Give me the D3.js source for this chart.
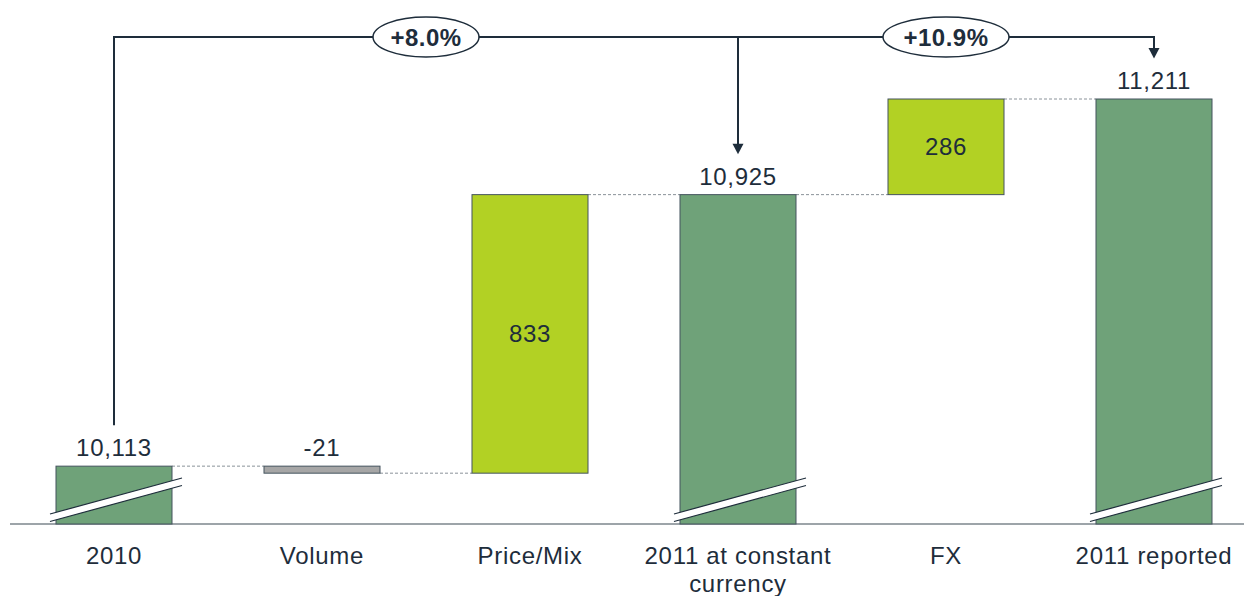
<!DOCTYPE html>
<html>
<head>
<meta charset="utf-8">
<script src="https://cdn.jsdelivr.net/npm/d3@7"></script>
<style>
  html, body { margin: 0; padding: 0; background: #fff; }
  svg { display: block; font-family: "Liberation Sans", Arial, sans-serif; }
</style>
</head>
<body>
<svg id="chart" width="1244" height="596"></svg>
<script>
// Bridge from 2010 sales to 2011 reported sales
const categories = ["2010", "Volume", "Price/Mix", "2011 at constant\ncurrency", "FX", "2011 reported"];
const kinds      = ["total", "delta", "delta", "total", "delta", "total"];
const values     = [10113, -21, 833, 10925, 286, 11211];
const valueLabels = ["10,113", "-21", "833", "10,925", "286", "11,211"];
const growthLabels = ["+8.0%", "+10.9%"];
const growthSpans = [[0, 3], [3, 5]];   // category indices joined by each bracket
const axisFloor = 9940;                  // value at the (broken) baseline

const svg = d3.select("#chart");
const ink = "#1e2d3b";
const edge = "#44535e";
const fontSize = 24;
const tracking = 0.7;

const x = d3.scaleBand()
  .domain(d3.range(categories.length))
  .range([10, 1258])
  .paddingInner(0.4423)
  .paddingOuter(0.22115);

const y = d3.scaleLinear().domain([axisFloor, 11211]).range([524, 99]);

// running totals -> start/end for each bar
let run = 0;
const bars = values.map((v, i) => {
  let start, end;
  if (kinds[i] === "total") { start = axisFloor; end = v; run = v; }
  else { start = run; end = run + v; run = end; }
  return { i, v, start, end, kind: kinds[i], label: valueLabels[i] };
});

const fillFor = d => d.kind === "total" ? "#6fa279" : (d.v < 0 ? "#a6a6a6" : "#b2d124");

// dashed connectors between consecutive bars
const conn = svg.append("g");
bars.slice(0, -1).forEach((d, k) => {
  const next = bars[k + 1];
  conn.append("line")
    .attr("x1", x(d.i) + x.bandwidth()).attr("x2", x(next.i))
    .attr("y1", y(d.end)).attr("y2", y(d.end))
    .attr("stroke", "#8a9299").attr("stroke-width", 1)
    .attr("stroke-dasharray", "3,2");
});

// baseline
svg.append("line")
  .attr("x1", 10).attr("x2", 1244)
  .attr("y1", y(axisFloor)).attr("y2", y(axisFloor))
  .attr("stroke", "#7d868d").attr("stroke-width", 1.5);

// bars
svg.append("g").selectAll("rect").data(bars).join("rect")
  .attr("x", d => x(d.i))
  .attr("width", x.bandwidth())
  .attr("y", d => y(Math.max(d.start, d.end)))
  .attr("height", d => Math.abs(y(d.start) - y(d.end)))
  .attr("fill", fillFor)
  .attr("stroke", edge).attr("stroke-width", 1);

// axis-break marks on the total bars
const brk = svg.append("g");
bars.filter(d => d.kind === "total").forEach(d => {
  const x0 = x(d.i) - 6, x1 = x(d.i) + x.bandwidth() + 10;
  const yb = y(axisFloor);
  const pts = [[x0, yb - 10], [x1, yb - 46], [x1, yb - 38.5], [x0, yb - 2.5]];
  brk.append("path")
    .attr("d", d3.line()(pts) + "Z")
    .attr("fill", "#fff");
  brk.append("line").attr("x1", pts[0][0]).attr("y1", pts[0][1]).attr("x2", pts[1][0]).attr("y2", pts[1][1])
    .attr("stroke", ink).attr("stroke-width", 1.2);
  brk.append("line").attr("x1", pts[3][0]).attr("y1", pts[3][1]).attr("x2", pts[2][0]).attr("y2", pts[2][1])
    .attr("stroke", ink).attr("stroke-width", 1.2);
});

// value labels
svg.append("g").selectAll("text").data(bars).join("text")
  .attr("x", d => x(d.i) + x.bandwidth() / 2)
  .attr("y", d => d.kind === "total" || d.v < 0
      ? y(Math.max(d.start, d.end)) - 10
      : (y(d.start) + y(d.end)) / 2 + 8.5)
  .attr("text-anchor", "middle")
  .attr("font-size", fontSize)
  .attr("letter-spacing", tracking)
  .attr("fill", ink)
  .text(d => d.label);

// category labels
const cat = svg.append("g");
categories.forEach((c, i) => {
  const t = cat.append("text")
    .attr("x", x(i) + x.bandwidth() / 2)
    .attr("y", 563.5)
    .attr("text-anchor", "middle")
    .attr("font-size", fontSize)
    .attr("letter-spacing", tracking)
    .attr("fill", ink);
  c.split("\n").forEach((line, k) => {
    t.append("tspan").attr("x", x(i) + x.bandwidth() / 2).attr("dy", k === 0 ? 0 : 28).text(line);
  });
});

// growth brackets with arrows
const cx = i => x(i) + x.bandwidth() / 2;
const topY = 37;
const br = svg.append("g");
// vertical from the 2010 label up to the bracket
br.append("line")
  .attr("x1", cx(0)).attr("x2", cx(0))
  .attr("y1", y(values[0]) - 41).attr("y2", topY)
  .attr("stroke", ink).attr("stroke-width", 2);
br.append("line")
  .attr("x1", cx(0) - 1).attr("x2", cx(5) + 1)
  .attr("y1", topY).attr("y2", topY)
  .attr("stroke", ink).attr("stroke-width", 2);
// arrows down to each target total
growthSpans.forEach(([a, b]) => {
  const tipY = y(values[b]) - 40.5;
  br.append("line")
    .attr("x1", cx(b)).attr("x2", cx(b))
    .attr("y1", topY).attr("y2", tipY - 9)
    .attr("stroke", ink).attr("stroke-width", 2);
  br.append("path")
    .attr("d", `M${cx(b) - 5.5},${tipY - 10.5}L${cx(b) + 5.5},${tipY - 10.5}L${cx(b)},${tipY}Z`)
    .attr("fill", ink);
});
// growth ellipses
growthSpans.forEach(([a, b], k) => {
  const mx = (cx(a) + cx(b)) / 2;
  const rx = k === 0 ? 53 : 63;
  br.append("ellipse")
    .attr("cx", mx).attr("cy", topY).attr("rx", rx).attr("ry", 20)
    .attr("fill", "#fff").attr("stroke", ink).attr("stroke-width", 1.5);
  br.append("text")
    .attr("x", mx).attr("y", topY + 8.5)
    .attr("text-anchor", "middle")
    .attr("font-size", fontSize).attr("font-weight", "bold")
    .attr("letter-spacing", 0.5)
    .attr("fill", ink)
    .text(growthLabels[k]);
});
</script>
</body>
</html>
